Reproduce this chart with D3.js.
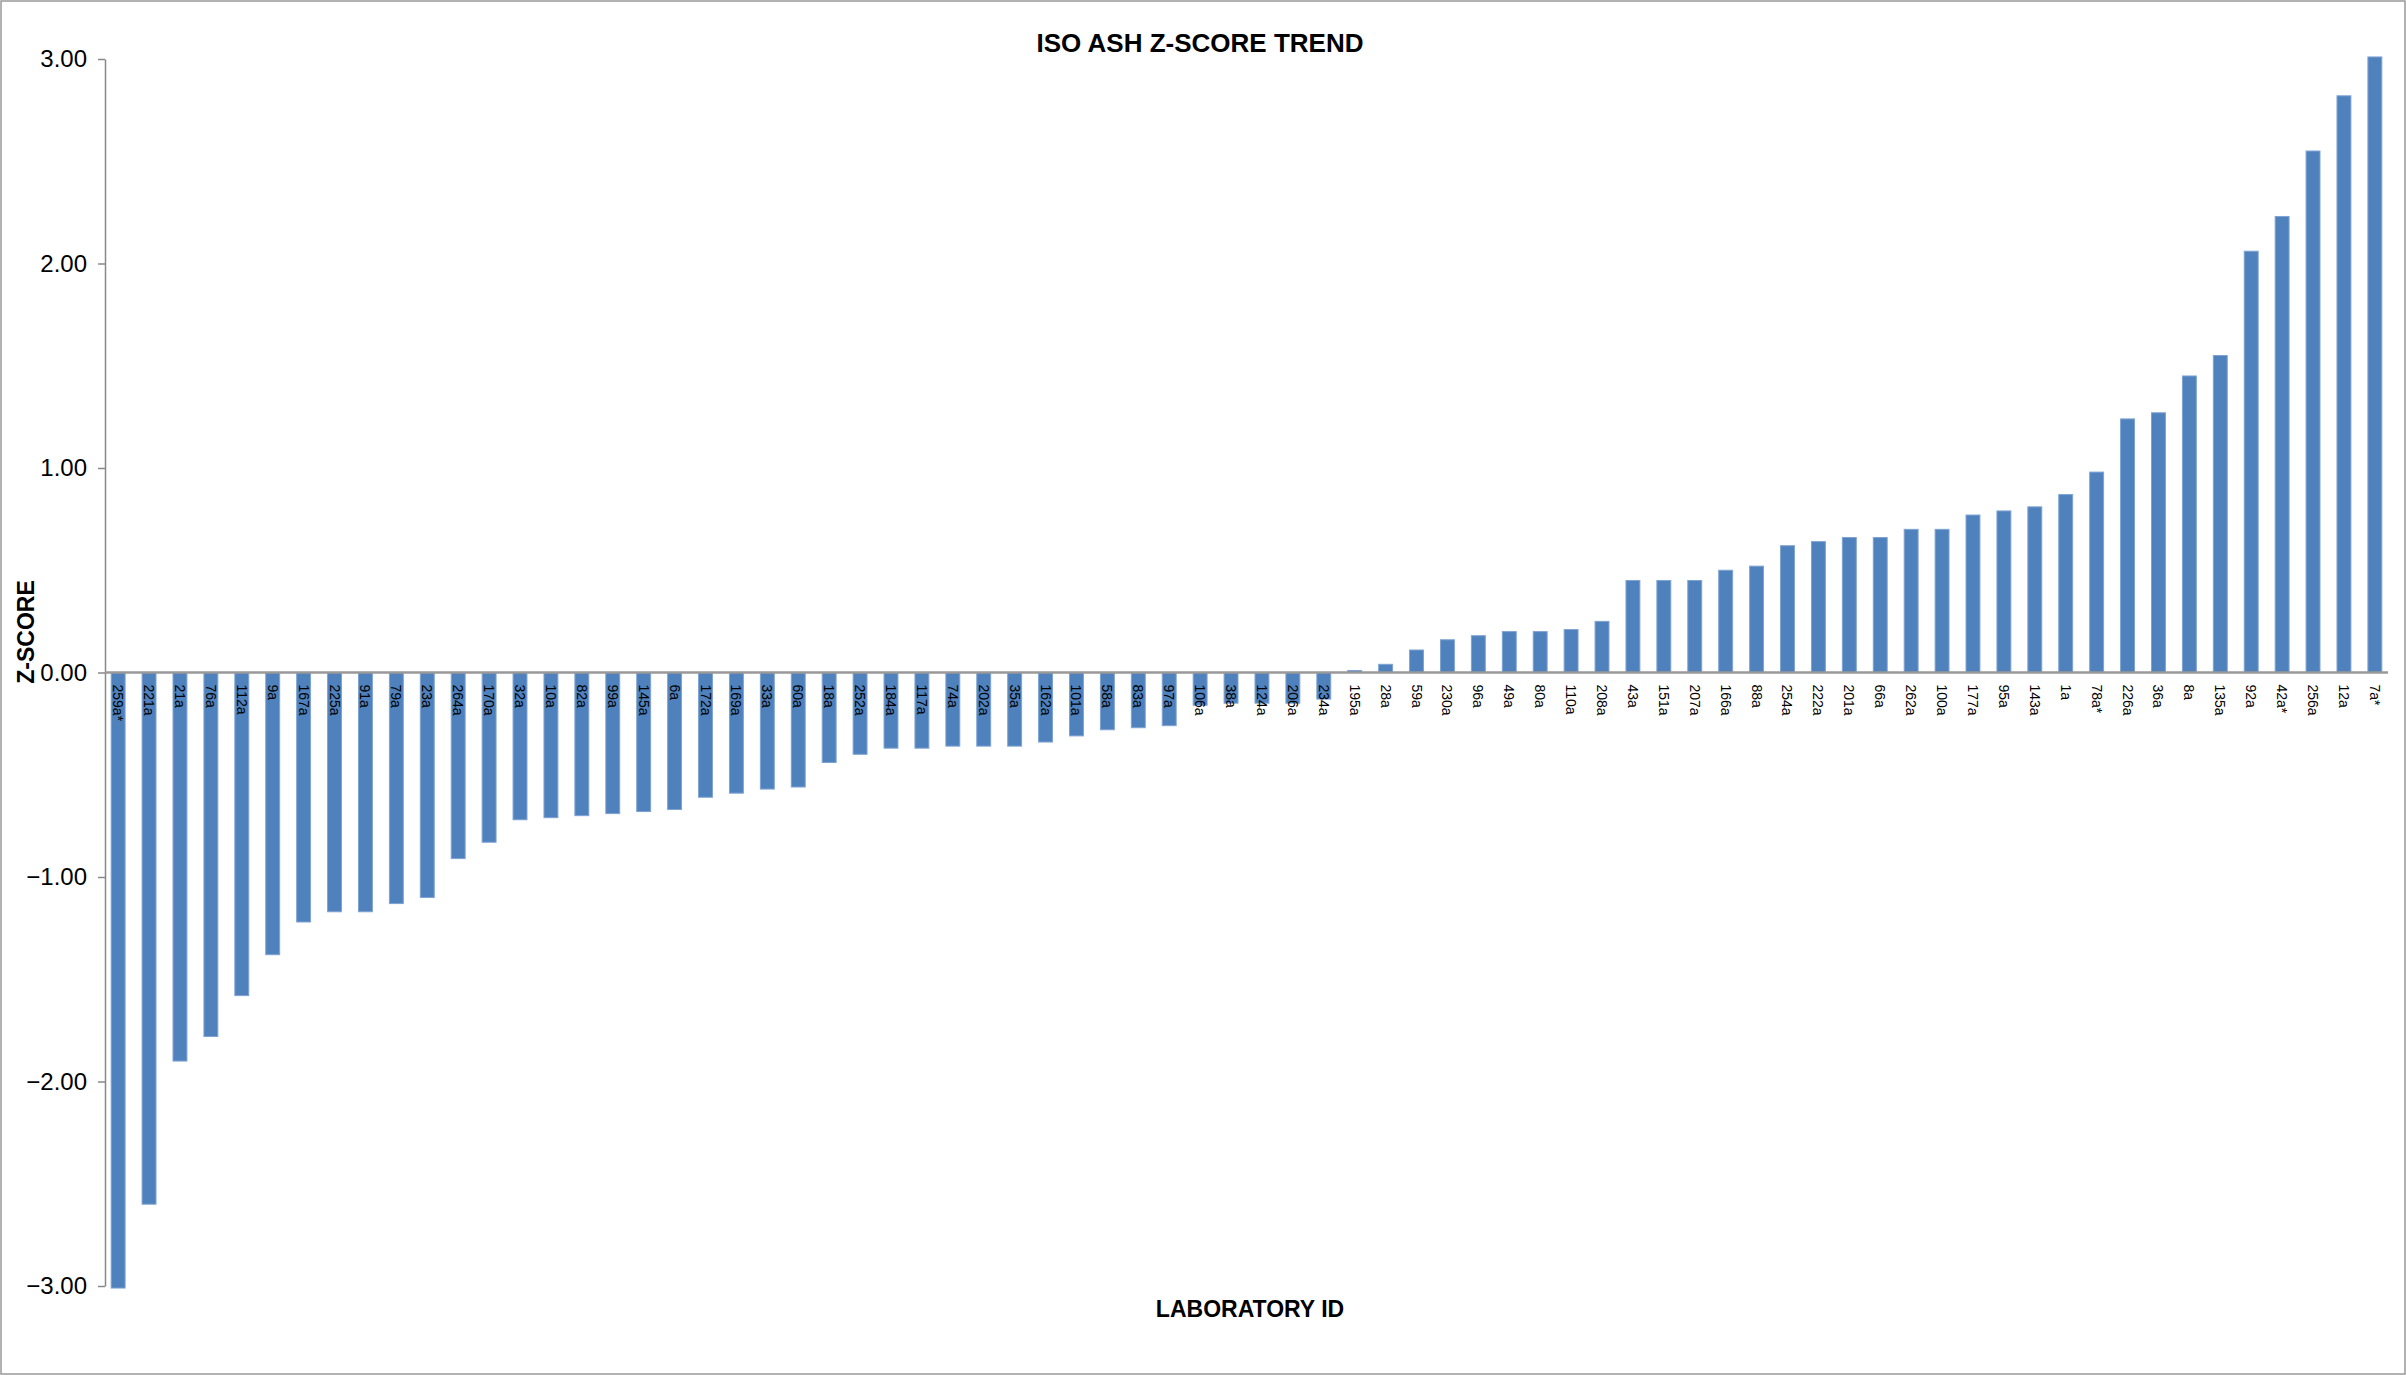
<!DOCTYPE html>
<meta charset="utf-8">
<script src="https://d3js.org/d3.v7.min.js"></script>
<style>body{margin:0;background:#fff}</style>
<div id="chart"></div>
<script>
// lab ids in plotted order
var labs = ["259a*","221a","21a","76a","112a","9a","167a","225a","91a","79a","23a","264a","170a","32a","10a","82a","99a","145a","6a","172a","169a","33a","60a","18a","252a","184a","117a","74a","202a","35a","162a","101a","58a","83a","97a","106a","38a","124a","206a","234a","195a","28a","59a","230a","96a","49a","80a","110a","208a","43a","151a","207a","166a","88a","254a","222a","201a","66a","262a","100a","177a","95a","143a","1a","78a*","226a","36a","8a","135a","92a","42a*","256a","12a","7a*"];
var zscores = [-3.01,-2.60,-1.90,-1.78,-1.58,-1.38,-1.22,-1.17,-1.17,-1.13,-1.10,-0.91,-0.83,-0.72,-0.71,-0.70,-0.69,-0.68,-0.67,-0.61,-0.59,-0.57,-0.56,-0.44,-0.40,-0.37,-0.37,-0.36,-0.36,-0.36,-0.34,-0.31,-0.28,-0.27,-0.26,-0.16,-0.15,-0.15,-0.15,-0.13,0.01,0.04,0.11,0.16,0.18,0.20,0.20,0.21,0.25,0.45,0.45,0.45,0.50,0.52,0.62,0.64,0.66,0.66,0.70,0.70,0.77,0.79,0.81,0.87,0.98,1.24,1.27,1.45,1.55,2.06,2.23,2.55,2.82,3.01];
var yTicks = [-3, -2, -1, 0, 1, 2, 3];

var W = 2406, H = 1375;
var margin = {top: 59, right: 18, bottom: 89, left: 105},
    width = W - margin.left - margin.right,
    height = H - margin.top - margin.bottom;

var root = d3.select("#chart").append("svg")
    .attr("width", W).attr("height", H)
    .style("font-family", "Liberation Sans, Arial, sans-serif");

root.append("rect").attr("x", 1).attr("y", 1).attr("width", W - 2).attr("height", H - 2)
    .attr("fill", "#fff").attr("stroke", "#999").attr("stroke-width", 1.5);

var svg = root.append("g").attr("transform", "translate(" + margin.left + "," + margin.top + ")");

var x = d3.scaleBand().domain(labs).range([0, width]).paddingInner(0.55).paddingOuter(0.2);
var y = d3.scaleLinear().domain([-3, 3]).range([height, 0]);

// y axis
var yAxis = svg.append("g")
  .call(d3.axisLeft(y).tickValues(yTicks).tickFormat(d3.format(".2f")).tickSize(7).tickSizeOuter(0));
yAxis.select(".domain").attr("stroke", "#888").attr("stroke-width", 1.5);
yAxis.selectAll(".tick line").attr("stroke", "#888").attr("stroke-width", 1.5);
yAxis.selectAll("text").attr("font-size", 24).attr("fill", "#000")
  .attr("font-family", "Liberation Sans, Arial, sans-serif").attr("x", -18);

// bars
svg.selectAll(".bar").data(labs).enter().append("rect")
  .attr("x", function(d) { return x(d); })
  .attr("width", x.bandwidth())
  .attr("y", function(d, i) { return y(Math.max(0, zscores[i])); })
  .attr("height", function(d, i) { return Math.abs(y(zscores[i]) - y(0)); })
  .attr("fill", "#4f81bd").attr("stroke", "#7ea3d3").attr("stroke-width", 1);

// zero line
svg.append("line").attr("x1", 0).attr("x2", width).attr("y1", y(0)).attr("y2", y(0))
  .attr("stroke", "#999").attr("stroke-width", 2.5);

// category labels, rotated down
svg.selectAll(".lab").data(labs).enter().append("text")
  .attr("transform", function(d) { return "translate(" + (x(d) + x.bandwidth() / 2 - 5) + "," + (y(0) + 12) + ")rotate(90)"; })
  .attr("font-size", 14).attr("fill", "#000")
  .text(function(d) { return d; });

// titles
root.append("text").attr("x", 1200).attr("y", 52).attr("text-anchor", "middle")
  .attr("font-size", 26).attr("font-weight", "bold").text("ISO ASH Z-SCORE TREND");
root.append("text").attr("x", 1250).attr("y", 1317).attr("text-anchor", "middle")
  .attr("font-size", 23).attr("font-weight", "bold").text("LABORATORY ID");
root.append("text").attr("transform", "translate(34,632)rotate(-90)").attr("text-anchor", "middle")
  .attr("font-size", 23).attr("font-weight", "bold").text("Z-SCORE");
</script>
